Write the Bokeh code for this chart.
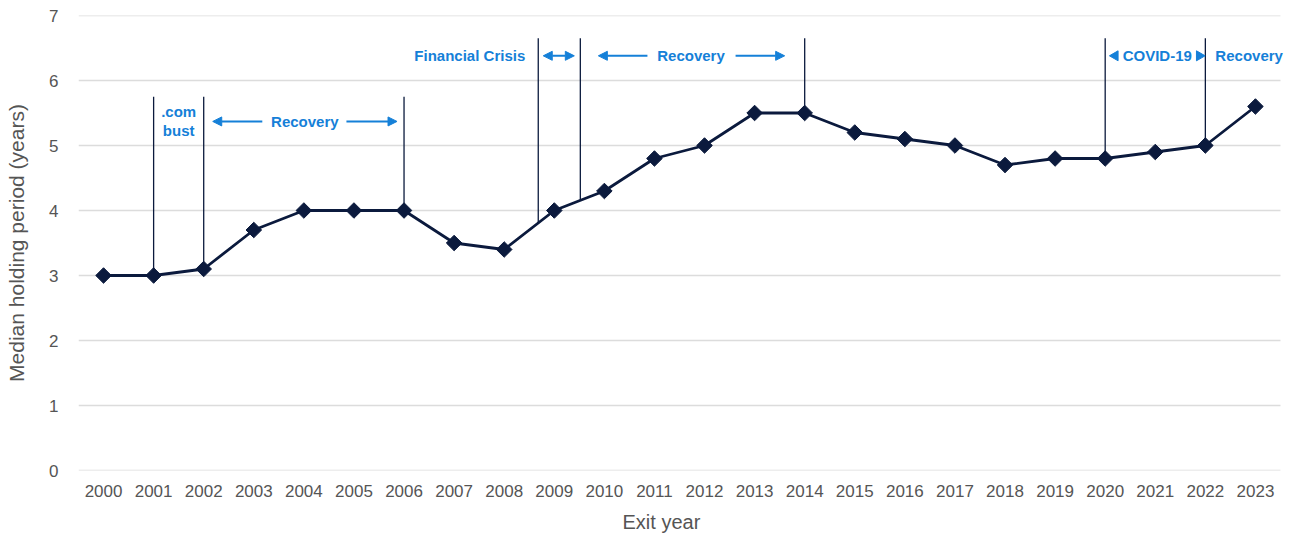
import numpy as np
from bokeh.plotting import figure
from bokeh.models import Range1d, FixedTicker, Arrow, NormalHead, Label, Title
from bokeh.embed import file_html
from bokeh.resources import INLINE

years = list(range(2000, 2024))
holding = [3.0, 3.0, 3.1, 3.7, 4.0, 4.0, 4.0, 3.5, 3.4, 4.0, 4.3, 4.8,
           5.0, 5.5, 5.5, 5.2, 5.1, 5.0, 4.7, 4.8, 4.8, 4.9, 5.0, 5.6]
y_ticks = [0, 1, 2, 3, 4, 5, 6, 7]

# event marker lines (x position in years, top of line in y units)
event_x = [2001, 2002, 2006, 2008.68, 2009.52, 2014, 2020, 2022]
event_top = [5.75, 5.75, 5.75, 6.65, 6.65, 6.65, 6.65, 6.65]

NAVY = "#0b1a3d"
BLUE = "#1580d8"
FONT = "Liberation Sans"

p = figure(width=1296, height=541, output_backend="svg", toolbar_location=None,
           x_range=Range1d(1999.5, 2023.82), y_range=Range1d(0, 7),
           min_border_left=78, min_border_right=0, min_border_top=15,
           min_border_bottom=71)
p.outline_line_color = None
p.background_fill_color = "white"
p.border_fill_color = "white"

p.xgrid.grid_line_color = None
p.ygrid.grid_line_color = None
# horizontal gridlines across the category span
p.segment(x0=[1999.5] * len(y_ticks), x1=[2023.5] * len(y_ticks), y0=y_ticks, y1=y_ticks,
          line_color="#dcdcdc", line_width=1.5)

p.yaxis.ticker = FixedTicker(ticks=y_ticks)
p.xaxis.ticker = FixedTicker(ticks=years)
for ax in (p.xaxis, p.yaxis):
    ax.axis_line_color = None
    ax.major_tick_line_color = None
    ax.minor_tick_line_color = None
    ax.major_label_text_font = FONT
    ax.major_label_text_font_size = "17px"
    ax.major_label_text_color = "#555555"
    ax.axis_label_text_font = FONT
    ax.axis_label_text_font_size = "21px"
    ax.axis_label_text_font_style = "normal"
    ax.axis_label_text_color = "#555555"
p.yaxis.major_label_standoff = 14
p.xaxis.major_label_standoff = 8
p.yaxis.axis_label = "Median holding period (years)"
p.yaxis.axis_label_standoff = 18
p.add_layout(Title(text="Exit year", align="left", offset=544, text_font=FONT,
                   text_font_size="20px", text_font_style="normal",
                   text_color="#555555", standoff=18), "below")

# event lines ending at the data line
ends = list(np.interp(event_x, years, holding))
p.segment(x0=event_x, x1=event_x, y0=event_top, y1=ends, line_color=NAVY, line_width=1.3)

p.line(years, holding, line_color=NAVY, line_width=2.8)
p.scatter(years, holding, marker="square", angle=np.pi / 4, size=11,
          fill_color=NAVY, line_color=NAVY)

def txt(x, y, t, align="center"):
    p.add_layout(Label(x=x, y=y, text=t, text_font=FONT, text_font_size="15px",
                       text_font_style="bold", text_color=BLUE, text_align=align,
                       text_baseline="middle"))

def arrow(x0, x1, y, both=False):
    head = NormalHead(size=9, fill_color=BLUE, line_color=BLUE)
    start = NormalHead(size=9, fill_color=BLUE, line_color=BLUE) if both else None
    p.add_layout(Arrow(x_start=x0, x_end=x1, y_start=y, y_end=y, end=head, start=start,
                       line_color=BLUE, line_width=2))

# .com bust
txt(2001.5, 5.52, ".com")
txt(2001.5, 5.23, "bust")
# Recovery 1
txt(2004.02, 5.37, "Recovery")
arrow(2003.17, 2002.18, 5.37)
arrow(2004.85, 2005.86, 5.37)
# Financial crisis
txt(2008.42, 6.38, "Financial Crisis", align="right")
arrow(2008.78, 2009.40, 6.38, both=True)
# Recovery 2
txt(2011.73, 6.38, "Recovery")
arrow(2010.86, 2009.88, 6.38)
arrow(2012.62, 2013.60, 6.38)
# COVID-19
txt(2021.04, 6.38, "COVID-19")
p.scatter([2020.2, 2021.88], [6.38, 6.38], marker="triangle", angle=[np.pi / 2, -np.pi / 2],
          size=10, fill_color=BLUE, line_color=BLUE)
# Recovery 3
txt(2022.2, 6.38, "Recovery", align="left")

open("out.html", "w").write(file_html(p, INLINE))
